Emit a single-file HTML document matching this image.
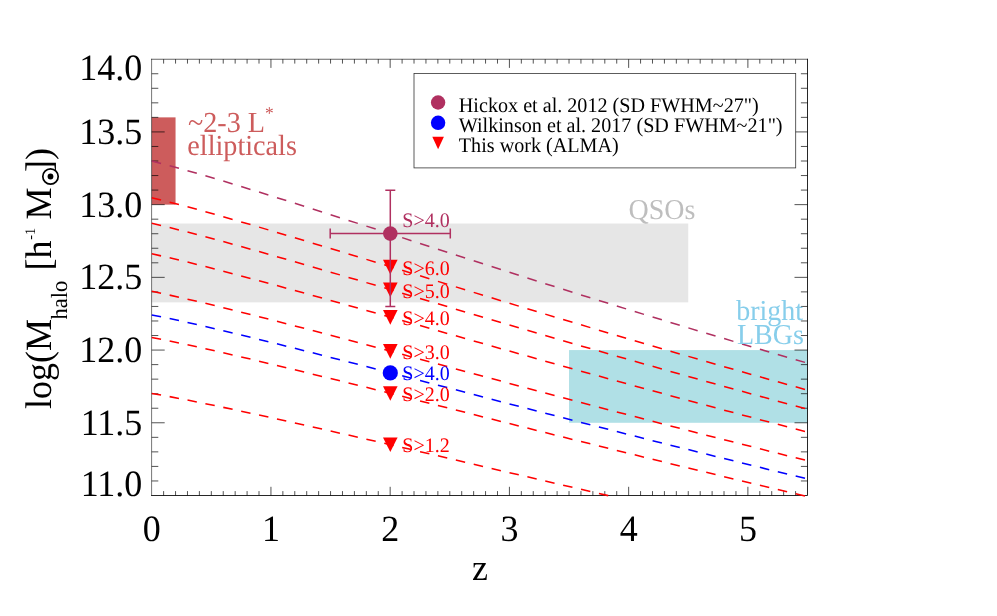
<!DOCTYPE html>
<html><head><meta charset="utf-8"><title>plot</title><style>html,body{margin:0;padding:0;background:#fff}svg{display:block;will-change:transform}.t{font-family:"Liberation Serif",serif;text-rendering:geometricPrecision}</style></head><body>
<svg width="997" height="616" viewBox="0 0 997 616">
<rect width="997" height="616" fill="#fff"/>
<rect x="151.70" y="223.54" width="536.56" height="78.82" fill="#e6e6e6"/>
<rect x="569.03" y="350.07" width="238.47" height="72.72" fill="#b0e0e6"/>
<rect x="151.70" y="117.37" width="23.85" height="87.26" fill="#cd5c5c"/>
<path d="M151.60 58.80V495.90" stroke="#000" stroke-width="0.8" stroke-opacity="0.68" fill="none"/>
<path d="M151.20 59.25H807.90" stroke="#000" stroke-width="0.8" stroke-opacity="0.75" fill="none"/>
<path d="M807.50 58.80V495.50H151.20" stroke="#000" stroke-width="0.85" fill="none"/>
<path d="M163.62 495.50v-4.40M163.62 59.20v4.40M175.55 495.50v-4.40M175.55 59.20v4.40M187.47 495.50v-4.40M187.47 59.20v4.40M199.39 495.50v-4.40M199.39 59.20v4.40M211.32 495.50v-4.40M211.32 59.20v4.40M223.24 495.50v-4.40M223.24 59.20v4.40M235.17 495.50v-4.40M235.17 59.20v4.40M247.09 495.50v-4.40M247.09 59.20v4.40M259.01 495.50v-4.40M259.01 59.20v4.40M270.94 495.50v-8.70M270.94 59.20v8.70M282.86 495.50v-4.40M282.86 59.20v4.40M294.78 495.50v-4.40M294.78 59.20v4.40M306.71 495.50v-4.40M306.71 59.20v4.40M318.63 495.50v-4.40M318.63 59.20v4.40M330.55 495.50v-4.40M330.55 59.20v4.40M342.48 495.50v-4.40M342.48 59.20v4.40M354.40 495.50v-4.40M354.40 59.20v4.40M366.33 495.50v-4.40M366.33 59.20v4.40M378.25 495.50v-4.40M378.25 59.20v4.40M390.17 495.50v-8.70M390.17 59.20v8.70M402.10 495.50v-4.40M402.10 59.20v4.40M414.02 495.50v-4.40M414.02 59.20v4.40M425.94 495.50v-4.40M425.94 59.20v4.40M437.87 495.50v-4.40M437.87 59.20v4.40M449.79 495.50v-4.40M449.79 59.20v4.40M461.71 495.50v-4.40M461.71 59.20v4.40M473.64 495.50v-4.40M473.64 59.20v4.40M485.56 495.50v-4.40M485.56 59.20v4.40M497.49 495.50v-4.40M497.49 59.20v4.40M509.41 495.50v-8.70M509.41 59.20v8.70M521.33 495.50v-4.40M521.33 59.20v4.40M533.26 495.50v-4.40M533.26 59.20v4.40M545.18 495.50v-4.40M545.18 59.20v4.40M557.10 495.50v-4.40M557.10 59.20v4.40M569.03 495.50v-4.40M569.03 59.20v4.40M580.95 495.50v-4.40M580.95 59.20v4.40M592.87 495.50v-4.40M592.87 59.20v4.40M604.80 495.50v-4.40M604.80 59.20v4.40M616.72 495.50v-4.40M616.72 59.20v4.40M628.65 495.50v-8.70M628.65 59.20v8.70M640.57 495.50v-4.40M640.57 59.20v4.40M652.49 495.50v-4.40M652.49 59.20v4.40M664.42 495.50v-4.40M664.42 59.20v4.40M676.34 495.50v-4.40M676.34 59.20v4.40M688.26 495.50v-4.40M688.26 59.20v4.40M700.19 495.50v-4.40M700.19 59.20v4.40M712.11 495.50v-4.40M712.11 59.20v4.40M724.03 495.50v-4.40M724.03 59.20v4.40M735.96 495.50v-4.40M735.96 59.20v4.40M747.88 495.50v-8.70M747.88 59.20v8.70M759.81 495.50v-4.40M759.81 59.20v4.40M771.73 495.50v-4.40M771.73 59.20v4.40M783.65 495.50v-4.40M783.65 59.20v4.40M795.58 495.50v-4.40M795.58 59.20v4.40M151.70 480.96h6.60M807.50 480.96h-6.60M151.70 466.41h6.60M807.50 466.41h-6.60M151.70 451.87h6.60M807.50 451.87h-6.60M151.70 437.33h6.60M807.50 437.33h-6.60M151.70 422.78h13.00M807.50 422.78h-13.00M151.70 408.24h6.60M807.50 408.24h-6.60M151.70 393.70h6.60M807.50 393.70h-6.60M151.70 379.15h6.60M807.50 379.15h-6.60M151.70 364.61h6.60M807.50 364.61h-6.60M151.70 350.07h13.00M807.50 350.07h-13.00M151.70 335.52h6.60M807.50 335.52h-6.60M151.70 320.98h6.60M807.50 320.98h-6.60M151.70 306.44h6.60M807.50 306.44h-6.60M151.70 291.89h6.60M807.50 291.89h-6.60M151.70 277.35h13.00M807.50 277.35h-13.00M151.70 262.81h6.60M807.50 262.81h-6.60M151.70 248.26h6.60M807.50 248.26h-6.60M151.70 233.72h6.60M807.50 233.72h-6.60M151.70 219.18h6.60M807.50 219.18h-6.60M151.70 204.63h13.00M807.50 204.63h-13.00M151.70 190.09h6.60M807.50 190.09h-6.60M151.70 175.55h6.60M807.50 175.55h-6.60M151.70 161.00h6.60M807.50 161.00h-6.60M151.70 146.46h6.60M807.50 146.46h-6.60M151.70 131.92h13.00M807.50 131.92h-13.00M151.70 117.37h6.60M807.50 117.37h-6.60M151.70 102.83h6.60M807.50 102.83h-6.60M151.70 88.29h6.60M807.50 88.29h-6.60M151.70 73.74h6.60M807.50 73.74h-6.60" stroke="#000" stroke-width="0.8" stroke-opacity="0.85" fill="none"/>
<path d="M151.75 161.03L161.05 163.41M169.64 165.68L178.94 168.23M187.52 170.63L196.82 173.29M205.41 175.79L214.71 178.54M223.30 181.11L232.60 183.93M241.19 186.55L250.49 189.42M259.07 192.08L268.37 194.98M276.96 197.67L286.26 200.60M294.85 203.32L304.15 206.27M312.73 209.00L322.03 211.96M330.62 214.69L339.92 217.66M348.51 220.41L357.81 223.38M366.39 226.12L375.69 229.10M384.28 231.84L393.58 234.83M402.17 237.63L411.47 240.66M420.06 243.45L429.36 246.47M437.94 249.26L447.24 252.27M455.83 255.05L465.13 258.05M473.72 260.82L483.02 263.81M491.60 266.56L500.90 269.54M509.49 272.28L518.79 275.25M527.38 277.98L536.68 280.93M545.26 283.64L554.56 286.58M563.15 289.28L572.45 292.20M581.04 294.89L590.34 297.79M598.92 300.47L608.22 303.35M616.81 306.01L626.11 308.88M634.70 311.52L644.00 314.38M652.59 317.01L661.89 319.84M670.47 322.46L679.77 325.28M688.36 327.87L697.66 330.67M706.25 333.26L715.55 336.04M724.13 338.61L733.43 341.37M742.02 343.92L751.32 346.67M759.91 349.21L769.21 351.94M777.80 354.46L787.10 357.17M795.68 359.68L804.98 362.37" stroke="#b03060" stroke-width="1.55" fill="none"/>
<path d="M151.75 197.80L161.05 200.04M169.64 202.18L178.94 204.59M187.52 206.85L196.82 209.37M205.41 211.73L214.71 214.33M223.30 216.75L232.60 219.42M241.19 221.90L250.49 224.61M259.07 227.13L268.37 229.87M276.96 232.42L286.26 235.19M294.85 237.76L304.15 240.56M312.73 243.14L322.03 245.95M330.62 248.54L339.92 251.36M348.51 253.96L357.81 256.78M366.39 259.38L375.69 262.20M384.28 264.80L393.58 267.64M402.17 270.31L411.47 273.19M420.06 275.84L429.36 278.72M437.94 281.37L447.24 284.23M455.83 286.88L465.13 289.73M473.72 292.37L483.02 295.22M491.60 297.84L500.90 300.68M509.49 303.29L518.79 306.12M527.38 308.72L536.68 311.53M545.26 314.12L554.56 316.92M563.15 319.50L572.45 322.29M581.04 324.86L590.34 327.63M598.92 330.18L608.22 332.94M616.81 335.48L626.11 338.22M634.70 340.75L644.00 343.47M652.59 345.99L661.89 348.70M670.47 351.20L679.77 353.90M688.36 356.38L697.66 359.06M706.25 361.53L715.55 364.20M724.13 366.66L733.43 369.31M742.02 371.75L751.32 374.38M759.91 376.81L769.21 379.43M777.80 381.84L787.10 384.45M795.68 386.85L804.98 389.43" stroke="#ff0000" stroke-width="1.55" fill="none"/>
<path d="M151.75 223.36L161.05 225.52M169.64 227.58L178.94 229.89M187.52 232.07L196.82 234.48M205.41 236.75L214.71 239.25M223.30 241.58L232.60 244.14M241.19 246.53L250.49 249.13M259.07 251.56L268.37 254.20M276.96 256.65L286.26 259.32M294.85 261.79L304.15 264.48M312.73 266.97L322.03 269.67M330.62 272.17L339.92 274.88M348.51 277.39L357.81 280.11M366.39 282.62L375.69 285.33M384.28 287.84L393.58 290.59M402.17 293.15L411.47 295.93M420.06 298.50L429.36 301.27M437.94 303.83L447.24 306.60M455.83 309.16L465.13 311.92M473.72 314.46L483.02 317.22M491.60 319.75L500.90 322.50M509.49 325.02L518.79 327.75M527.38 330.27L536.68 332.99M545.26 335.50L554.56 338.21M563.15 340.71L572.45 343.40M581.04 345.89L590.34 348.57M598.92 351.04L608.22 353.71M616.81 356.17L626.11 358.83M634.70 361.28L644.00 363.92M652.59 366.35L661.89 368.98M670.47 371.40L679.77 374.02M688.36 376.43L697.66 379.03M706.25 381.42L715.55 384.01M724.13 386.39L733.43 388.96M742.02 391.33L751.32 393.89M759.91 396.24L769.21 398.79M777.80 401.13L787.10 403.66M795.68 405.98L804.98 408.50" stroke="#ff0000" stroke-width="1.55" fill="none"/>
<path d="M151.75 253.82L161.05 255.87M169.64 257.84L178.94 260.03M187.52 262.11L196.82 264.42M205.41 266.58L214.71 268.96M223.30 271.19L232.60 273.63M241.19 275.91L250.49 278.40M259.07 280.71L268.37 283.23M276.96 285.58L286.26 288.13M294.85 290.49L304.15 293.06M312.73 295.44L322.03 298.02M330.62 300.41L339.92 303.00M348.51 305.40L357.81 308.00M366.39 310.40L375.69 313.00M384.28 315.40L393.58 318.03M402.17 320.49L411.47 323.16M420.06 325.62L429.36 328.28M437.94 330.73L447.24 333.39M455.83 335.84L465.13 338.49M473.72 340.93L483.02 343.58M491.60 346.01L500.90 348.65M509.49 351.07L518.79 353.70M527.38 356.12L536.68 358.73M545.26 361.14L554.56 363.74M563.15 366.14L572.45 368.74M581.04 371.13L590.34 373.71M598.92 376.09L608.22 378.65M616.81 381.02L626.11 383.58M634.70 385.93L644.00 388.48M652.59 390.82L661.89 393.35M670.47 395.69L679.77 398.21M688.36 400.53L697.66 403.03M706.25 405.34L715.55 407.83M724.13 410.13L733.43 412.61M742.02 414.89L751.32 417.36M759.91 419.63L769.21 422.08M777.80 424.34L787.10 426.78M795.68 429.03L804.98 431.45" stroke="#ff0000" stroke-width="1.55" fill="none"/>
<path d="M151.75 291.33L161.05 293.27M169.64 295.12L178.94 297.19M187.52 299.15L196.82 301.32M205.41 303.36L214.71 305.61M223.30 307.71L232.60 310.02M241.19 312.17L250.49 314.52M259.07 316.70L268.37 319.09M276.96 321.30L286.26 323.71M294.85 325.94L304.15 328.37M312.73 330.62L322.03 333.07M330.62 335.33L339.92 337.78M348.51 340.05L357.81 342.51M366.39 344.78L375.69 347.25M384.28 349.52L393.58 352.01M402.17 354.35L411.47 356.88M420.06 359.21L429.36 361.74M437.94 364.07L447.24 366.60M455.83 368.92L465.13 371.44M473.72 373.76L483.02 376.28M491.60 378.59L500.90 381.10M509.49 383.41L518.79 385.90M527.38 388.21L536.68 390.69M545.26 392.99L554.56 395.47M563.15 397.75L572.45 400.22M581.04 402.50L590.34 404.96M598.92 407.22L608.22 409.67M616.81 411.93L626.11 414.37M634.70 416.61L644.00 419.04M652.59 421.28L661.89 423.69M670.47 425.92L679.77 428.32M688.36 430.54L697.66 432.93M706.25 435.14L715.55 437.52M724.13 439.71L733.43 442.08M742.02 444.26L751.32 446.62M759.91 448.79L769.21 451.14M777.80 453.30L787.10 455.63M795.68 457.78L804.98 460.10" stroke="#ff0000" stroke-width="1.55" fill="none"/>
<path d="M151.75 314.95L161.05 316.81M169.64 318.60L178.94 320.59M187.52 322.48L196.82 324.58M205.41 326.54L214.71 328.71M223.30 330.74L232.60 332.96M241.19 335.03L250.49 337.30M259.07 339.41L268.37 341.71M276.96 343.84L286.26 346.17M294.85 348.33L304.15 350.67M312.73 352.84L322.03 355.20M330.62 357.38L339.92 359.75M348.51 361.95L357.81 364.32M366.39 366.52L375.69 368.90M384.28 371.10L393.58 373.51M402.17 375.77L411.47 378.21M420.06 380.47L429.36 382.92M437.94 385.18L447.24 387.62M455.83 389.87L465.13 392.31M473.72 394.56L483.02 396.99M491.60 399.24L500.90 401.66M509.49 403.90L518.79 406.32M527.38 408.55L536.68 410.96M545.26 413.19L554.56 415.59M563.15 417.81L572.45 420.20M581.04 422.41L590.34 424.79M598.92 426.99L608.22 429.37M616.81 431.56L626.11 433.92M634.70 436.10L644.00 438.46M652.59 440.63L661.89 442.97M670.47 445.13L679.77 447.47M688.36 449.62L697.66 451.94M706.25 454.08L715.55 456.40M724.13 458.53L733.43 460.83M742.02 462.95L751.32 465.24M759.91 467.35L769.21 469.63M777.80 471.73L787.10 474.00M795.68 476.09L804.98 478.34" stroke="#0000ff" stroke-width="1.55" fill="none"/>
<path d="M151.75 337.54L161.05 339.34M169.64 341.06L178.94 342.99M187.52 344.81L196.82 346.83M205.41 348.73L214.71 350.82M223.30 352.78L232.60 354.93M241.19 356.93L250.49 359.12M259.07 361.16L268.37 363.38M276.96 365.44L286.26 367.69M294.85 369.77L304.15 372.04M312.73 374.14L322.03 376.42M330.62 378.53L339.92 380.82M348.51 382.94L357.81 385.24M366.39 387.37L375.69 389.67M384.28 391.80L393.58 394.13M402.17 396.32L411.47 398.69M420.06 400.88L429.36 403.25M437.94 405.44L447.24 407.81M455.83 409.99L465.13 412.35M473.72 414.54L483.02 416.90M491.60 419.07L500.90 421.42M509.49 423.60L518.79 425.94M527.38 428.11L536.68 430.45M545.26 432.61L554.56 434.94M563.15 437.09L572.45 439.41M581.04 441.56L590.34 443.87M598.92 446.01L608.22 448.31M616.81 450.44L626.11 452.74M634.70 454.86L644.00 457.15M652.59 459.25L661.89 461.53M670.47 463.63L679.77 465.90M688.36 467.99L697.66 470.25M706.25 472.33L715.55 474.58M724.13 476.66L733.43 478.89M742.02 480.96L751.32 483.18M759.91 485.24L769.21 487.46M777.80 489.50L787.10 491.71M795.68 493.74L804.98 495.94" stroke="#ff0000" stroke-width="1.55" fill="none"/>
<path d="M151.75 393.41L161.05 395.06M169.64 396.63L178.94 398.40M187.52 400.07L196.82 401.92M205.41 403.66L214.71 405.58M223.30 407.37L232.60 409.34M241.19 411.18L250.49 413.19M259.07 415.06L268.37 417.10M276.96 419.00L286.26 421.06M294.85 422.98L304.15 425.06M312.73 426.99L322.03 429.09M330.62 431.03L339.92 433.14M348.51 435.09L357.81 437.21M366.39 439.17L375.69 441.29M384.28 443.25L393.58 445.40M402.17 447.43L411.47 449.62M420.06 451.64L429.36 453.84M437.94 455.86L447.24 458.05M455.83 460.07L465.13 462.26M473.72 464.28L483.02 466.47M491.60 468.49L500.90 470.67M509.49 472.68L518.79 474.86M527.38 476.86L536.68 479.04M545.26 481.04L554.56 483.20M563.15 485.20L572.45 487.36M581.04 489.35L590.34 491.50M598.92 493.49L608.22 495.63" stroke="#ff0000" stroke-width="1.55" fill="none"/>
<path d="M383.00 259.80L397.60 259.80L390.30 274.40Z" fill="#ff0000"/>
<text transform="translate(402.30 274.70) scale(1 1.030)" class="t" font-size="20" fill="#ff0000">S&gt;6.0</text>
<path d="M383.00 282.60L397.60 282.60L390.30 297.20Z" fill="#ff0000"/>
<text transform="translate(402.30 297.50) scale(1 1.030)" class="t" font-size="20" fill="#ff0000">S&gt;5.0</text>
<path d="M383.00 310.10L397.60 310.10L390.30 324.70Z" fill="#ff0000"/>
<text transform="translate(402.30 325.00) scale(1 1.030)" class="t" font-size="20" fill="#ff0000">S&gt;4.0</text>
<path d="M383.00 344.10L397.60 344.10L390.30 358.70Z" fill="#ff0000"/>
<text transform="translate(402.30 359.00) scale(1 1.030)" class="t" font-size="20" fill="#ff0000">S&gt;3.0</text>
<path d="M383.00 386.20L397.60 386.20L390.30 400.80Z" fill="#ff0000"/>
<text transform="translate(402.30 401.10) scale(1 1.030)" class="t" font-size="20" fill="#ff0000">S&gt;2.0</text>
<path d="M383.00 437.50L397.60 437.50L390.30 452.10Z" fill="#ff0000"/>
<text transform="translate(402.30 452.40) scale(1 1.030)" class="t" font-size="20" fill="#ff0000">S&gt;1.2</text>
<circle cx="390.30" cy="372.9" r="7.6" fill="#0000ff"/>
<text transform="translate(402.30 380.20) scale(1 1.030)" class="t" font-size="20" fill="#0000ff">S&gt;4.0</text>
<g stroke="#b03060" stroke-width="1.5" fill="none">
<path d="M330.2 233.6H450.3M330.2 228.6V238.6M450.3 228.6V238.6"/>
<path d="M390.30 190.2V306.6M385.3 190.2H395.3M385.3 306.6H395.3"/>
</g>
<circle cx="390.30" cy="233.6" r="7.3" fill="#b03060"/>
<text transform="translate(402.30 227.30) scale(1 1.030)" class="t" font-size="20" fill="#b03060">S&gt;4.0</text>
<text transform="translate(188.00 132.00) scale(1 1.030)" class="t" font-size="28.2" fill="#cd5c5c">~2-3 L<tspan font-size="17.5" dy="-12.2">*</tspan></text>
<text transform="translate(187.30 154.90) scale(1 1.030)" class="t" font-size="28.2" fill="#cd5c5c">ellipticals</text>
<text transform="translate(628.50 219.30) scale(1 1.030)" class="t" font-size="28" fill="#bebebe">QSOs</text>
<text transform="translate(736.20 320.20) scale(1 1.030)" class="t" font-size="28" fill="#87ceeb">bright</text>
<text transform="translate(737.00 343.60) scale(1 1.030)" class="t" font-size="28" fill="#87ceeb">LBGs</text>
<rect x="414" y="73.4" width="381.7" height="94.5" fill="#fff" stroke="#000" stroke-width="0.8" stroke-opacity="0.8"/>
<circle cx="438.1" cy="102.5" r="7.2" fill="#b03060"/>
<circle cx="438.1" cy="122.8" r="7.2" fill="#0000ff"/>
<path d="M432.30 136.75L443.90 136.75L438.10 149.25Z" fill="#ff0000"/>
<text transform="translate(458.80 111.70) scale(1 1.030)" class="t" font-size="20.15" fill="#000">Hickox et al. 2012 (SD FWHM~27")</text>
<text transform="translate(458.80 131.50) scale(1 1.030)" class="t" font-size="20.15" fill="#000">Wilkinson et al. 2017 (SD FWHM~21")</text>
<text transform="translate(458.80 151.50) scale(1 1.030)" class="t" font-size="20.15" fill="#000">This work (ALMA)</text>
<text transform="translate(151.70 541.00) scale(1 1.030)" class="t" font-size="36" text-anchor="middle" fill="#000">0</text>
<text transform="translate(270.94 541.00) scale(1 1.030)" class="t" font-size="36" text-anchor="middle" fill="#000">1</text>
<text transform="translate(390.17 541.00) scale(1 1.030)" class="t" font-size="36" text-anchor="middle" fill="#000">2</text>
<text transform="translate(509.41 541.00) scale(1 1.030)" class="t" font-size="36" text-anchor="middle" fill="#000">3</text>
<text transform="translate(628.65 541.00) scale(1 1.030)" class="t" font-size="36" text-anchor="middle" fill="#000">4</text>
<text transform="translate(747.88 541.00) scale(1 1.030)" class="t" font-size="36" text-anchor="middle" fill="#000">5</text>
<text transform="translate(142.30 80.40) scale(1 1.030)" class="t" font-size="36" text-anchor="end" fill="#000">14.0</text>
<text transform="translate(142.30 144.02) scale(1 1.030)" class="t" font-size="36" text-anchor="end" fill="#000">13.5</text>
<text transform="translate(142.30 216.73) scale(1 1.030)" class="t" font-size="36" text-anchor="end" fill="#000">13.0</text>
<text transform="translate(142.30 289.45) scale(1 1.030)" class="t" font-size="36" text-anchor="end" fill="#000">12.5</text>
<text transform="translate(142.30 362.17) scale(1 1.030)" class="t" font-size="36" text-anchor="end" fill="#000">12.0</text>
<text transform="translate(142.30 434.88) scale(1 1.030)" class="t" font-size="36" text-anchor="end" fill="#000">11.5</text>
<text transform="translate(142.30 495.60) scale(1 1.030)" class="t" font-size="36" text-anchor="end" fill="#000">11.0</text>
<text transform="translate(479.90 579.90) scale(1 1.030)" class="t" font-size="36" text-anchor="middle" fill="#000">z</text>
<text transform="rotate(-90) translate(-409.00 50.70) scale(1 1.030)" class="t" font-size="36" fill="#000">log(M</text>
<text transform="rotate(-90) translate(-319.40 67.20) scale(1 1.030)" class="t" font-size="22.5" fill="#000">halo</text>
<text transform="rotate(-90) translate(-270.60 50.70) scale(1 1.030)" class="t" font-size="36" fill="#000">[h</text>
<text transform="rotate(-90) translate(-239.80 34.60) scale(1 1.030)" class="t" font-size="14.2" fill="#000">-1</text>
<text transform="rotate(-90) translate(-219.40 50.70) scale(1 1.030)" class="t" font-size="36" fill="#000">M</text>
<circle cx="50.5" cy="176.5" r="7.7" fill="none" stroke="#000" stroke-width="1.7"/>
<circle cx="50.5" cy="176.5" r="2.9" fill="#000"/>
<text transform="rotate(-90) translate(-171.90 50.70) scale(1 1.030)" class="t" font-size="36" fill="#000">])</text>
</svg>
</body></html>
